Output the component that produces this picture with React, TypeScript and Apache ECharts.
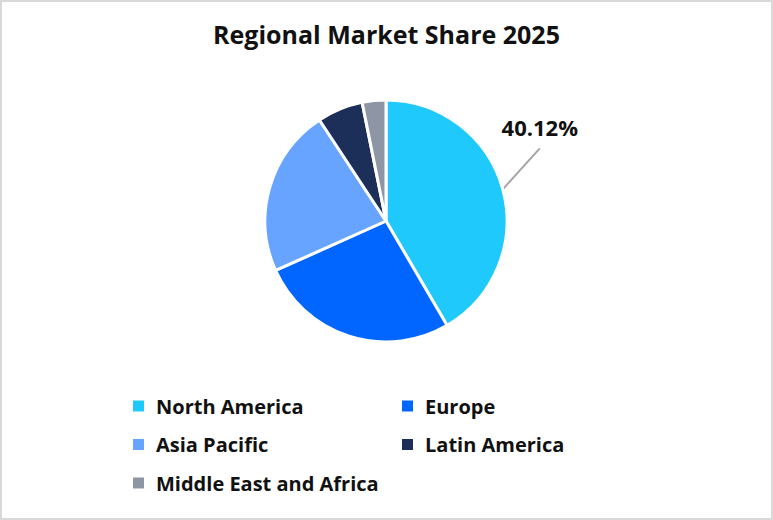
import React, { useEffect, useRef } from "react";
import * as echarts from "echarts";

const categories = ["North America", "Europe", "Asia Pacific", "Latin America", "Middle East and Africa"];
const shares = [40.12, 25.8, 21.65, 5.9, 3.05];
const colors = ["#1FC9FC", "#0066FF", "#66A4FF", "#1B2F58", "#8E96A6"];
const legendLeftColumn = ["North America", "Asia Pacific", "Middle East and Africa"];
const legendRightColumn = ["Europe", "Latin America"];
const titleText = "Regional Market Share 2025";

const FONT = "'Open Sans', 'Noto Sans', sans-serif";

export default function App() {
  const ref = useRef<HTMLDivElement>(null);
  useEffect(() => {
    if (!ref.current) return;
    const chart = echarts.init(ref.current, undefined, { renderer: "svg" });
    const legendText = {
      fontFamily: FONT,
      fontWeight: "bold" as const,
      fontSize: 20,
      lineHeight: 24,
      color: "#111",
      padding: [0, 0, 0, 6],
    };
    const legendCommon = {
      orient: "vertical",
      top: 394,
      padding: 0,
      itemWidth: 13,
      itemHeight: 13,
      itemGap: 14.5,
      icon: "rect",
      textStyle: legendText,
    };
    chart.setOption({
      animation: false,
      backgroundColor: "#fff",
      title: {
        text: titleText,
        left: "center",
        top: 16,
        textStyle: { fontFamily: FONT, fontWeight: "bold", fontSize: 25, color: "#111" },
      },
      legend: [
        { ...legendCommon, data: legendLeftColumn, left: 131 },
        { ...legendCommon, data: legendRightColumn, left: 400 },
      ],
      graphic: [
        {
          type: "rect",
          shape: { x: 1, y: 1, width: 771, height: 518 },
          style: { fill: "none", stroke: "#d9d9d9", lineWidth: 2 },
          silent: true,
        },
      ],
      series: [
        {
          type: "pie",
          center: [386, 221],
          radius: 121,
          startAngle: 90,
          clockwise: true,
          itemStyle: { borderColor: "#fff", borderWidth: 3 },
          label: { show: false },
          labelLine: { show: false },
          emphasis: { disabled: true },
          labelLayout: (params: any) => {
            const pts = params.labelLinePoints;
            if (!pts) return {};
            const start = pts[0];
            const end = [start[0] + 37, start[1] - 41];
            return {
              x: end[0],
              y: end[1] - 21,
              align: "center",
              verticalAlign: "middle",
              labelLinePoints: [start, end, end],
            };
          },
          data: categories.map((name, i) => ({
            name,
            value: shares[i],
            itemStyle: { color: colors[i] },
            label:
              i === 0
                ? {
                    show: true,
                    formatter: "{c}%",
                    fontFamily: FONT,
                    fontWeight: "bold",
                    fontSize: 22,
                    color: "#111",
                  }
                : { show: false },
            labelLine:
              i === 0
                ? { show: true, length: 20, length2: 10, lineStyle: { color: "#a6a6a6", width: 2 } }
                : { show: false },
          })),
        },
      ],
    });
    return () => chart.dispose();
  }, []);
  return (
    <div style={{ position: "fixed", left: 0, top: 0, width: 773, height: 520 }}>
      <div ref={ref} style={{ width: 773, height: 520 }} />
    </div>
  );
}
